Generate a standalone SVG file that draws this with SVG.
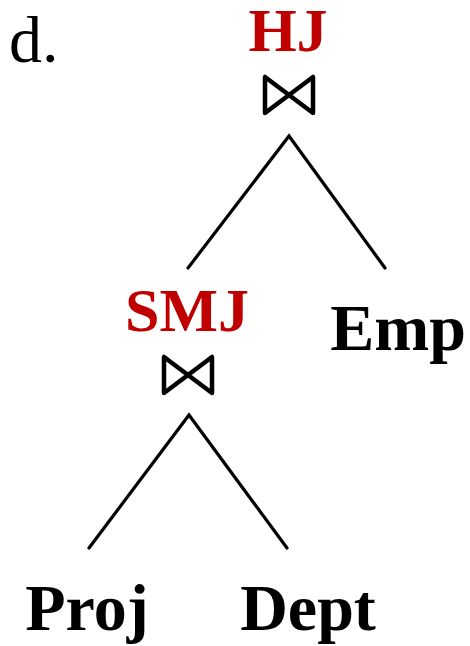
<svg xmlns="http://www.w3.org/2000/svg" width="470" height="646" viewBox="0 0 470 646">
<style>
.lbl{font-family:"Liberation Serif","Times New Roman",serif;font-weight:bold;font-size:66px;text-anchor:middle;fill:#000}
.op{fill:#c00000;font-size:62px}
.edge{stroke:#000;stroke-width:3.2;fill:none;stroke-linecap:round}
.bow{stroke:#000;stroke-width:4.5;fill:none;stroke-linejoin:round}
</style>
<rect width="470" height="646" fill="#fff"/>
<text x="9" y="62" font-family="Liberation Serif, serif" font-size="66" fill="#000">d.</text>
<g id="connectors">
<polyline class="edge" points="188,268 289,136 385,268"/>
<polyline class="edge" points="89,548 189,415 287,548"/>
</g>
<g id="hj">
<text class="lbl op" x="288" y="51">HJ</text>
<path class="bow" d="M265,77 L265,113 L313,77 L313,113 Z"/>
</g>
<g id="smj">
<text class="lbl op" x="187" y="331">SMJ</text>
<path class="bow" d="M164,357 L164,393 L212,357 L212,393 Z"/>
</g>
<g id="emp"><text class="lbl" x="398" y="350">Emp</text></g>
<g id="proj"><text class="lbl" x="87" y="630">Proj</text></g>
<g id="dept"><text class="lbl" x="308" y="630">Dept</text></g>
</svg>
